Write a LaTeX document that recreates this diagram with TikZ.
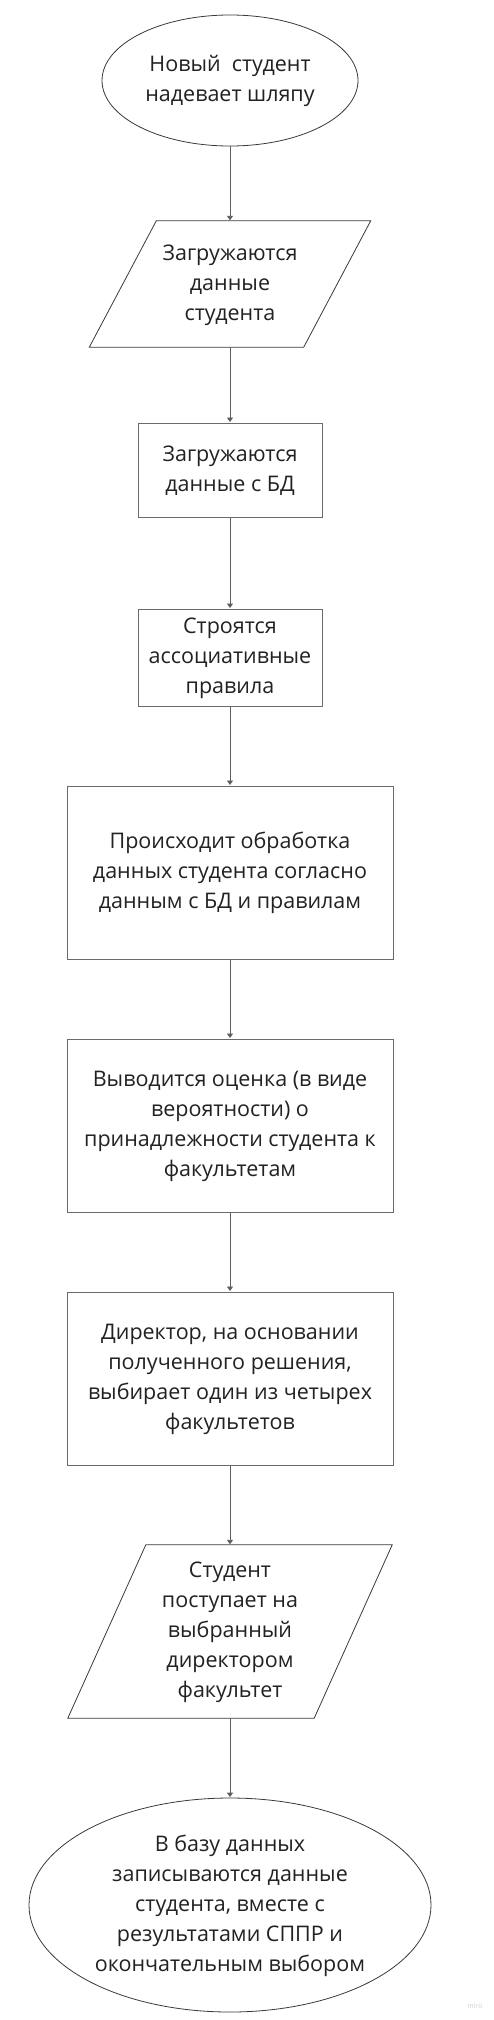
\documentclass[tikz,border=0pt]{standalone}
\usepackage{fontspec}
\setmainfont{Open Sans}
\usetikzlibrary{shapes.geometric,arrows.meta}
\definecolor{linecol}{HTML}{5E5E5E}
\definecolor{boxcol}{HTML}{6A6A6A}
\definecolor{txtcol}{HTML}{222222}
\definecolor{ellcol}{HTML}{3A3A3A}
\begin{document}
\begin{tikzpicture}[x=1pt,y=-1pt,
  lbl/.style={text=txtcol,font=\fontsize{21.5}{30}\selectfont,align=center,inner sep=0pt},
  ellnode/.style={lbl,ellipse,draw=ellcol,line width=0.8pt},
  boxnode/.style={lbl,rectangle,draw=boxcol,line width=1pt},
  paranode/.style={lbl,rectangle},
  paraline/.style={draw=ellcol,line width=0.8pt},
  arr/.style={draw=linecol,line width=0.9pt,-{Triangle[length=4.5pt,width=6pt]},shorten >=0.5pt}
]
\useasboundingbox (0,0) rectangle (494,2020);
\fill[white] (0,0) rectangle (494,2020);

\node[ellnode,minimum width=256pt,minimum height=131pt] (e1) at (230,80.5)
  {\strut Новый~ студент\\ надевает шляпу\strut};

\node[paranode,minimum width=281pt,minimum height=126pt] (p1) at (230,284)
  {\strut Загружаются\\ данные\\ студента\strut};
\draw[paraline] ([xshift=67pt]p1.north west) -- (p1.north east) -- ([xshift=-67pt]p1.south east) -- (p1.south west) -- cycle;

\node[boxnode,minimum width=184pt,minimum height=94pt] (b1) at (230,470)
  {\strut Загружаются\\ данные с БД\strut};

\node[boxnode,minimum width=184pt,minimum height=97pt] (b2) at (230,657.5)
  {\strut Строятся\\ ассоциативные\\ правила\strut};

\node[boxnode,minimum width=326pt,minimum height=173pt] (b3) at (230,872.5)
  {\strut Происходит обработка\\ данных студента согласно\\ данным с БД и правилам\strut};

\node[boxnode,minimum width=326pt,minimum height=173pt] (b4) at (230,1125.5)
  {\strut Выводится оценка (в виде\\ вероятности) о\\ принадлежности студента к\\ факультетам\strut};

\node[boxnode,minimum width=326pt,minimum height=173pt] (b5) at (230,1378.5)
  {\strut Директор, на основании\\ полученного решения,\\ выбирает один из четырех\\ факультетов\strut};

\node[paranode,minimum width=324pt,minimum height=173pt] (p2) at (230,1631.5)
  {\strut Студент\\ поступает на\\ выбранный\\ директором\\ факультет\strut};
\draw[paraline] ([xshift=78pt]p2.north west) -- (p2.north east) -- ([xshift=-78pt]p2.south east) -- (p2.south west) -- cycle;

\node[ellnode,minimum width=402pt,minimum height=214pt] (e2) at (230,1905)
  {\strut В базу данных\\ записываются данные\\ студента, вместе с\\ результатами СППР и\\ окончательным выбором\strut};

\node[text=black!18,font=\fontsize{7}{8}\selectfont,inner sep=0pt] (wm) at (475,2006) {miro};

\draw[arr] (e1.south) -- (p1.north);
\draw[arr] (p1.south) -- (b1.north);
\draw[arr] (b1.south) -- (b2.north);
\draw[arr] (b2.south) -- (b3.north);
\draw[arr] (b3.south) -- (b4.north);
\draw[arr] (b4.south) -- (b5.north);
\draw[arr] (b5.south) -- (p2.north);
\draw[arr] (p2.south) -- (e2.north);
\end{tikzpicture}
\end{document}
